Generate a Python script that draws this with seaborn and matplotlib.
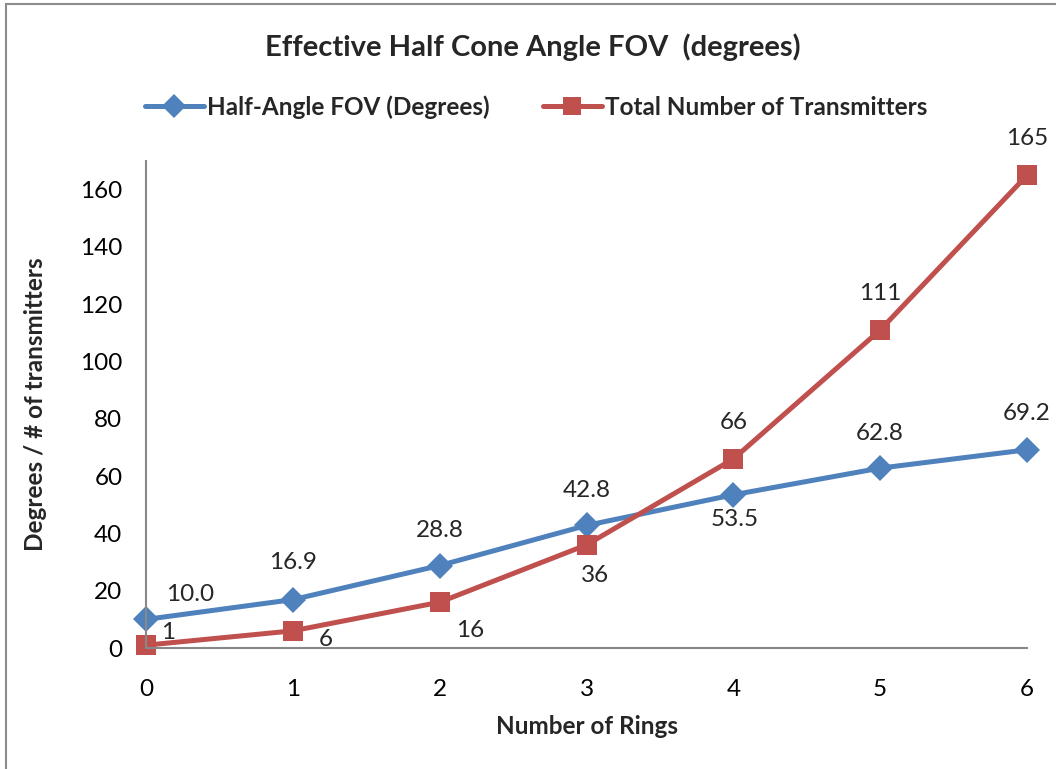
import matplotlib
matplotlib.use("Agg")
import matplotlib.pyplot as plt
import seaborn as sns
import pandas as pd

rings = [0, 1, 2, 3, 4, 5, 6]
half_angle_fov = [10.0, 16.9, 28.8, 42.8, 53.5, 62.8, 69.2]
total_transmitters = [1, 6, 16, 36, 66, 111, 165]
fov_labels = ["10.0", "16.9", "28.8", "42.8", "53.5", "62.8", "69.2"]
tx_labels = ["1", "6", "16", "36", "66", "111", "165"]
series_names = ["Half-Angle FOV (Degrees)", "Total Number of Transmitters"]
y_ticks = [0, 20, 40, 60, 80, 100, 120, 140, 160]

sns.set_theme(style="white")
plt.rcParams["font.family"] = ["Lato", "DejaVu Sans"]

df = pd.DataFrame({
    "Rings": rings * 2,
    "Value": half_angle_fov + total_transmitters,
    "Series": [series_names[0]] * len(rings) + [series_names[1]] * len(rings),
})

blue = "#4F81BD"
red = "#C0504D"
palette = {series_names[0]: blue, series_names[1]: red}
markers = {series_names[0]: "D", series_names[1]: "s"}

fig = plt.figure(figsize=(10.56, 7.69), dpi=100)
ax = fig.add_axes([0.1383, 0.1573, 0.8342, 0.6333])

sns.lineplot(data=df, x="Rings", y="Value", hue="Series", style="Series",
             palette=palette, markers=markers, dashes=False, linewidth=3.6,
             markersize=14.5, markeredgewidth=0, ax=ax, legend=False)
for line in ax.lines:
    line.set_clip_on(False)
    line.set_solid_capstyle("round")
# diamonds a touch smaller than squares
ax.lines[0].set_markersize(13)

ax.set_xlim(0, 6)
ax.set_ylim(0, 170)
ax.set_xticks(rings)
ax.set_yticks(y_ticks)
ax.tick_params(axis="both", length=0, labelsize=17.5, colors="black")
ax.tick_params(axis="y", pad=17)
ax.tick_params(axis="x", pad=22)
for side in ["top", "right"]:
    ax.spines[side].set_visible(False)
for side in ["left", "bottom"]:
    ax.spines[side].set_color("#888888")
    ax.spines[side].set_linewidth(1.5)

ax.set_xlabel("Number of Rings", fontsize=17.5, fontweight="bold", labelpad=11)
ax.set_ylabel("Degrees / # of transmitters", fontsize=17.5, fontweight="bold", labelpad=24)

# value labels (offsets in pixels)
fov_offsets = [(44, 25), (0, 37), (0, 35), (0, 35), (1, -25), (0, 35), (0, 36)]
tx_offsets = [(22, 13), (33, -9), (30, -28), (8, -31), (0, 36), (0, 37), (0, 37)]
for x, y, lab, off in zip(rings, half_angle_fov, fov_labels, fov_offsets):
    ax.annotate(lab, (x, y), xytext=off, textcoords="offset pixels",
                ha="center", va="center", fontsize=17.5, annotation_clip=False)
for x, y, lab, off in zip(rings, total_transmitters, tx_labels, tx_offsets):
    ax.annotate(lab, (x, y), xytext=off, textcoords="offset pixels",
                ha="center", va="center", fontsize=17.5, annotation_clip=False)

fig.text(0.505, 1 - 47 / 769, "Effective Half Cone Angle FOV  (degrees)",
         ha="center", va="center", fontsize=21, fontweight="bold")

handles = [
    plt.Line2D([], [], color=blue, marker="D", markersize=12, linewidth=3.6,
               markeredgewidth=0, solid_capstyle="round"),
    plt.Line2D([], [], color=red, marker="s", markersize=13, linewidth=3.6,
               markeredgewidth=0, solid_capstyle="round"),
]
leg = fig.legend(handles, series_names, loc="center", ncol=2,
                 bbox_to_anchor=(0.508, 1 - 107 / 769), frameon=False,
                 handlelength=2.4, handletextpad=0.15, columnspacing=2.2,
                 prop={"size": 17.5, "weight": "bold"})

# outer chart frame
frame = plt.Rectangle((6 / 1056, -0.05), 1.2, 1 - 4 / 769 + 0.05,
                      transform=fig.transFigure, fill=False,
                      edgecolor="#8c8c8c", linewidth=1.5)
fig.add_artist(frame)

fig.savefig("out.png", dpi=100)
